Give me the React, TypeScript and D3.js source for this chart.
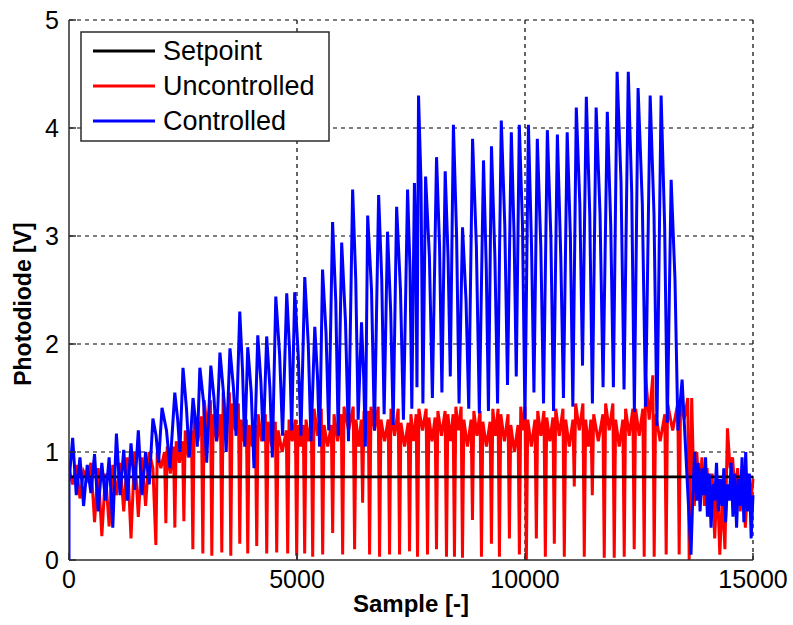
import React from 'react'
import * as d3 from 'd3'

// x ticks / y ticks
const xTicks = [0, 5000, 10000, 15000]
const yTicks = [0, 1, 2, 3, 4, 5]

const setpoint = 0.77

// uncontrolled: samples 0..1840, one value every 80 samples
const redEarly = [0.85, 0.7, 0.88, 0.57, 0.82, 0.75, 0.9, 0.35, 0.85, 0.22, 0.8, 0.31, 0.88, 0.6, 0.9, 0.45, 0.95, 0.2, 1.0, 0.4, 0.95, 0.5, 1.0, 0.85]
// uncontrolled: sample of each dip, its depth, the plateau after it and the notch in that plateau
const redDip = [1905, 2124, 2321, 2519, 2716, 2935, 3132, 3351, 3548, 3745, 3920, 4117, 4336, 4555, 4796, 4993,
  5168, 5344, 5563, 5782, 6001, 6263, 6439, 6592, 6811, 7030, 7249, 7468, 7643, 7862, 8059,
  8278, 8453, 8629, 8848, 9045, 9264, 9439, 9658, 9877, 10030, 10249, 10446, 10643, 10862,
  11081, 11300, 11476, 11738, 11957, 12176, 12395, 12614, 12833, 13096, 13381, 13600]
const redLow = [0.14, 0.34, 0.3, 0.36, 0.1, 0.06, 0.04, 0.07, 0.04, 0.15, 0.06, 0.13, 0.06, 0.07, 0.06, 0.04,
  0.06, 0.03, 0.05, 0.25, 0.05, 0.1, 0.53, 0.05, 0.03, 0.05, 0.05, 0.08, 0.03, 0.05, 0.1,
  0.03, 0.03, 0.02, 0.37, 0.03, 0.15, 0.03, 0.2, 0.05, 0.0, 0.2, 0.03, 0.15, 0.03,
  0.68, 0.03, 0.6, 0.02, 0.02, 0.03, 0.1, 0.03, 0.03, 0.05, 0.05, 0.0]
const redHigh = [1.0, 1.05, 1.1, 1.2, 1.33, 1.48, 1.35, 1.55, 1.45, 1.3, 1.25, 1.35, 1.28, 1.2, 1.3, 1.25,
  1.3, 1.4, 1.25, 1.35, 1.42, 1.3, 1.38, 1.42, 1.3, 1.4, 1.27, 1.35, 1.4, 1.32, 1.38,
  1.35, 1.42, 1.3, 1.38, 1.28, 1.4, 1.35, 1.25, 1.42, 1.3, 1.38, 1.32, 1.4, 1.3,
  1.45, 1.3, 1.35, 1.45, 1.3, 1.4, 1.4, 1.71, 1.35, 1.45, 1.5]
const redNotch = [0.85, 0.8, 0.9, 0.95, 1.1, 1.2, 1.1, 1.25, 1.2, 1.1, 1.05, 1.1, 1.05, 1.0, 1.1, 1.05,
  1.1, 1.15, 1.05, 1.1, 1.2, 1.05, 1.15, 1.2, 1.1, 1.15, 1.05, 1.1, 1.2, 1.1, 1.15,
  1.1, 1.2, 1.05, 1.15, 1.05, 1.15, 1.1, 1.0, 1.2, 1.05, 1.15, 1.1, 1.15, 1.05,
  1.2, 1.05, 1.1, 1.2, 1.05, 1.15, 1.15, 1.3, 1.1, 1.2, 1.3]
// uncontrolled: samples 13656..15000, one value every 56 samples
const redLate = [1.5, 0.5, 1.0, 0.55, 0.95, 0.5, 0.85, 0.4, 0.8, 0.2, 0.75, 0.05, 0.6, 0.1, 1.22,
  0.85, 0.95, 0.6, 0.85, 0.45, 0.8, 0.3, 0.75, 0.5, 0.75]

// controlled: samples 0..1760, one value every 80 samples
const blueEarly = [0.72, 1.13, 0.6, 0.95, 0.5, 0.88, 0.62, 0.98, 0.45, 0.9, 0.55, 0.95, 0.3, 1.17, 0.6, 1.02, 0.55, 1.08, 0.65, 1.2, 0.6, 1.0, 0.7]
// controlled: sample and value of each peak, the shoulder after it and the trough after that
const bluePeakAt = [1840, 2040, 2320, 2500, 2720, 2870, 3110, 3310, 3530, 3745, 3920, 4140, 4335, 4535, 4775, 4950,
  5170, 5390, 5560, 5780, 5980, 6220, 6415, 6550, 6790, 6985, 7185, 7425, 7575, 7665, 7820, 8060,
  8250, 8430, 8630, 8850, 9090, 9265, 9480, 9700, 9875, 10075, 10270, 10490, 10710, 10925,
  11125, 11345, 11560, 11805, 12020, 12265, 12480, 12745, 12985, 13205, 13445]
const bluePeak = [1.31, 1.41, 1.55, 1.78, 1.5, 1.78, 1.8, 1.92, 1.96, 2.3, 1.97, 2.08, 2.07, 2.44, 2.47, 2.48,
  2.62, 2.16, 2.69, 3.13, 2.94, 3.43, 2.2, 3.19, 3.38, 3.04, 3.27, 3.43, 3.49, 4.3, 3.55, 3.73,
  3.6, 4.03, 3.08, 3.9, 3.7, 3.83, 4.07, 3.96, 4.03, 4.03, 3.9, 3.98, 3.94, 3.96,
  4.19, 4.29, 4.19, 4.15, 4.52, 4.52, 4.37, 4.3, 4.3, 3.52, 1.67]
const blueShoulder = [1.15, 1.2, 1.3, 1.4, 1.3, 1.45, 1.5, 1.55, 1.6, 1.75, 1.55, 1.65, 1.6, 1.9, 1.95, 1.9,
  2.0, 1.7, 2.1, 2.4, 2.2, 2.6, 1.7, 2.5, 2.6, 2.3, 2.5, 2.7, 2.9, 3.5, 2.8, 2.9,
  2.8, 3.0, 2.4, 2.9, 2.7, 2.8, 3.1, 3.0, 3.1, 2.9, 2.9, 3.0, 2.8, 3.0,
  3.3, 3.2, 3.2, 3.1, 3.5, 3.4, 3.3, 3.2, 3.1, 2.6]
const blueTrough = [0.9, 0.85, 1.0, 0.95, 1.05, 0.9, 1.1, 1.0, 1.15, 1.05, 0.85, 1.1, 0.95, 1.15, 1.2, 1.15,
  1.1, 1.05, 1.2, 1.15, 1.1, 1.3, 1.05, 1.2, 1.35, 1.25, 1.3, 1.4, 1.6, 1.45, 1.5, 1.55,
  1.7, 1.45, 1.4, 1.36, 1.38, 1.45, 1.62, 1.7, 1.3, 1.55, 1.45, 1.38, 1.5, 1.42,
  1.8, 1.45, 1.6, 1.6, 1.58, 1.37, 1.42, 1.24, 1.27, 1.2]
// controlled: samples 13640..15000, one value every 40 samples
const blueLate = [0.05, 0.6, 1.0, 0.55, 0.9, 0.45, 0.85, 0.6, 0.95, 0.4, 0.8, 0.3, 0.7, 0.55, 0.9, 0.45, 0.75, 0.5,
  0.85, 0.35, 0.7, 0.55, 0.9, 0.4, 0.8, 0.3, 0.75, 0.5, 0.95, 0.35, 1.0, 0.45, 0.8, 0.2, 0.6]

const legendItems = [
  { label: 'Setpoint', color: '#000000' },
  { label: 'Uncontrolled', color: '#ff0000' },
  { label: 'Controlled', color: '#0000ff' },
]

function redPoints(): [number, number][] {
  const pts: [number, number][] = []
  redEarly.forEach((v, i) => pts.push([i * 80, v]))
  redDip.forEach((s, j) => {
    pts.push([s, redLow[j]])
    if (j < redHigh.length) {
      const next = redDip[j + 1]
      pts.push([s + 30, redHigh[j]])
      pts.push([(s + next) / 2, redNotch[j]])
      pts.push([next - 30, redHigh[j]])
    }
  })
  redLate.forEach((v, i) => pts.push([13656 + i * 56, v]))
  return pts
}

function bluePoints(): [number, number][] {
  const pts: [number, number][] = [[0, 0]]
  blueEarly.forEach((v, i) => pts.push([i * 80, v]))
  bluePeakAt.forEach((s, i) => {
    pts.push([s, bluePeak[i]])
    if (i < blueTrough.length) {
      const gap = bluePeakAt[i + 1] - s
      pts.push([s + gap * 0.35, blueShoulder[i]])
      pts.push([s + gap * 0.62, blueTrough[i]])
    }
  })
  blueLate.forEach((v, i) => pts.push([13640 + i * 40, v]))
  return pts
}

export default function App() {
  const width = 793, height = 625
  const m = { left: 69, right: 40, top: 20, bottom: 65 }
  const x = d3.scaleLinear().domain([0, 15000]).range([m.left, width - m.right])
  const y = d3.scaleLinear().domain([0, 5]).range([height - m.bottom, m.top])
  const line = d3.line<[number, number]>().x(d => x(d[0])).y(d => y(d[1]))

  const font = 'Liberation Sans, Arial, sans-serif'
  const axisColor = '#2b2b2b'

  return (
    <svg width={width} height={height} style={{ position: 'absolute', left: 0, top: 0, background: '#fff' }}>
      <rect width={width} height={height} fill="#fff" />
      {/* grid */}
      {xTicks.slice(1).map(t => (
        <line key={'gx' + t} x1={x(t)} x2={x(t)} y1={y(0)} y2={y(5)} stroke="#000" strokeWidth={1.2} strokeDasharray="4,4" />
      ))}
      {yTicks.slice(1).map(t => (
        <line key={'gy' + t} x1={x(0)} x2={x(15000)} y1={y(t)} y2={y(t)} stroke="#000" strokeWidth={1.2} strokeDasharray="4,4" />
      ))}

      <defs>
        <clipPath id="plot">
          <rect x={x(0)} y={y(5) - 2} width={x(15000) - x(0) + 2} height={y(0) - y(5) + 2} />
        </clipPath>
      </defs>
      <g clipPath="url(#plot)">
        <path d={line(redPoints()) || ''} fill="none" stroke="#ff0000" strokeWidth={3} />
        <line x1={x(0)} x2={x(15000)} y1={y(setpoint)} y2={y(setpoint)} stroke="#000" strokeWidth={2.8} />
        <path d={line(bluePoints()) || ''} fill="none" stroke="#0000ff" strokeWidth={3} />
      </g>

      {/* axes */}
      <line x1={x(0)} x2={x(0)} y1={y(0)} y2={y(5)} stroke={axisColor} strokeWidth={1.5} />
      <line x1={x(0)} x2={x(15000)} y1={y(0)} y2={y(0)} stroke={axisColor} strokeWidth={1.5} />
      {xTicks.map(t => (
        <g key={'xt' + t}>
          <line x1={x(t)} x2={x(t)} y1={y(0)} y2={y(0) - 7} stroke={axisColor} strokeWidth={1.5} />
          <text x={x(t)} y={y(0) + 28} textAnchor="middle" fontFamily={font} fontSize={25} fill="#000">{t}</text>
        </g>
      ))}
      {yTicks.map(t => (
        <g key={'yt' + t}>
          <line x1={x(0)} x2={x(0) + 7} y1={y(t)} y2={y(t)} stroke={axisColor} strokeWidth={1.5} />
          <text x={x(0) - 10} y={y(t) + 9} textAnchor="end" fontFamily={font} fontSize={25} fill="#000">{t}</text>
        </g>
      ))}
      <text x={(x(0) + x(15000)) / 2} y={612} textAnchor="middle" fontFamily={font} fontSize={24} fontWeight="bold">Sample [-]</text>
      <text transform={`translate(31,304) rotate(-90)`} textAnchor="middle" fontFamily={font} fontSize={23} fontWeight="bold">Photodiode [V]</text>

      {/* legend */}
      <rect x={81} y={32} width={248} height={109} fill="#fff" stroke={axisColor} strokeWidth={1.5} />
      {legendItems.map((d, i) => (
        <g key={d.label}>
          <line x1={93} x2={155} y1={51 + i * 35} y2={51 + i * 35} stroke={d.color} strokeWidth={2.8} />
          <text x={163} y={51 + i * 35 + 9} fontFamily={font} fontSize={27} fill="#000">{d.label}</text>
        </g>
      ))}
    </svg>
  )
}
